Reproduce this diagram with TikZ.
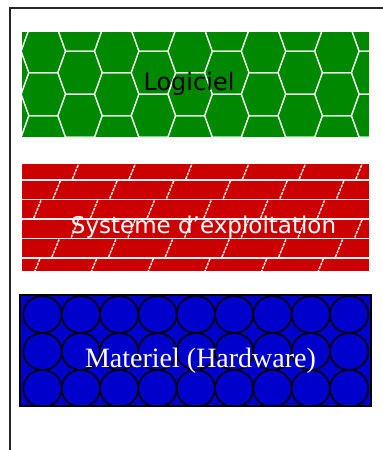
\documentclass[tikz,border=0pt]{standalone}
\usepackage{fontspec}
\setmainfont{DejaVu Sans}
\newfontfamily\hwserif{Liberation Serif}
\definecolor{hexgreen}{RGB}{0,136,0}
\definecolor{brickred}{RGB}{204,0,0}
\definecolor{circblue}{RGB}{0,0,204}
\tikzset{
  framestyle/.style={draw=black!85, line width=2pt},
  hexline/.style={draw=white!92!green, line width=1.2pt, line join=round},
  brickline/.style={draw=white!95!red, line width=1.1pt},
  jointline/.style={draw=white!95!red, line width=1.4pt, dash pattern=on 3pt off 1pt},
  circline/.style={draw=black, line width=1.6pt},
  boxedge/.style={draw=black, line width=1.2pt},
  labeltext/.style={inner sep=0pt, anchor=base}
}
\begin{document}
\begin{tikzpicture}[x=1pt,y=-1pt]
\useasboundingbox (0,0) rectangle (383,450);
\fill[white] (0,0) rectangle (383,450);
% frame
\draw[framestyle] (10,450) -- (10,7.5) -- (383,7.5);

% ---------- Logiciel : hexagons ----------
\fill[hexgreen] (22,32) rectangle (369,137);
\begin{scope}
  \clip (22,32) rectangle (369,137);
  \foreach \c in {-1,...,10} {
    \pgfmathsetmacro\xc{43.3+36.7*\c}
    \pgfmathsetmacro\yo{21.5*mod(\c+2,2)}
    \foreach \k in {-1,...,3} {
      \pgfmathsetmacro\yc{51.2+\yo+43*\k}
      \draw[hexline] (\xc-22.2,\yc) -- (\xc-14.5,\yc-21.5) -- (\xc+14.5,\yc-21.5)
        -- (\xc+22.2,\yc) -- (\xc+14.5,\yc+21.5) -- (\xc-14.5,\yc+21.5) -- cycle;
    }
  }
\end{scope}
\node[labeltext, text=black, font=\fontsize{24}{24}\selectfont] (logiciel) at (189,90) {Logiciel};

% ---------- Systeme : bricks ----------
\fill[brickred] (22,164) rectangle (369,271);
\begin{scope}
  \clip (22,164) rectangle (369,271);
  \foreach \y in {180,199.5,219,238.5,258} {
    \draw[brickline] (22,\y) -- (369,\y);
  }
  \foreach \r/\t/\b in {0/160.5/180,1/180/199.5,2/199.5/219,3/219/238.5,4/238.5/258,5/258/277.5} {
    \foreach \k in {-1,...,7} {
      \pgfmathsetmacro\xt{79.6-19.3*\r+56.7*\k}
      \draw[jointline] (\xt-7.2,\b-1) -- (\xt,\t+1);
    }
  }
\end{scope}
\node[labeltext, text=white, font=\fontsize{23}{23}\selectfont] (os) at (203.5,233) {Systeme d'exploitation};

% ---------- Materiel : circles ----------
\fill[circblue] (20,295) rectangle (371,406);
\begin{scope}
  \clip (20,295) rectangle (371,406);
  \foreach \i in {0,...,8} {
    \foreach \j in {0,1,2} {
      \pgfmathsetmacro\cx{42.5+38.33*\i}
      \pgfmathsetmacro\cy{314.5+37*\j}
      \draw[circline] (\cx,\cy) ellipse [x radius=19.2, y radius=18.5];
    }
  }
\end{scope}
\draw[draw=black!35, line width=0.8pt] (19.3,294.3) rectangle (371.7,406.7);
\draw[boxedge] (20,295) rectangle (371,406);
\node[labeltext, text=white, font=\hwserif\fontsize{28}{28}\selectfont] (hw) at (200.5,367) {Materiel (Hardware)};
\end{tikzpicture}
\end{document}
